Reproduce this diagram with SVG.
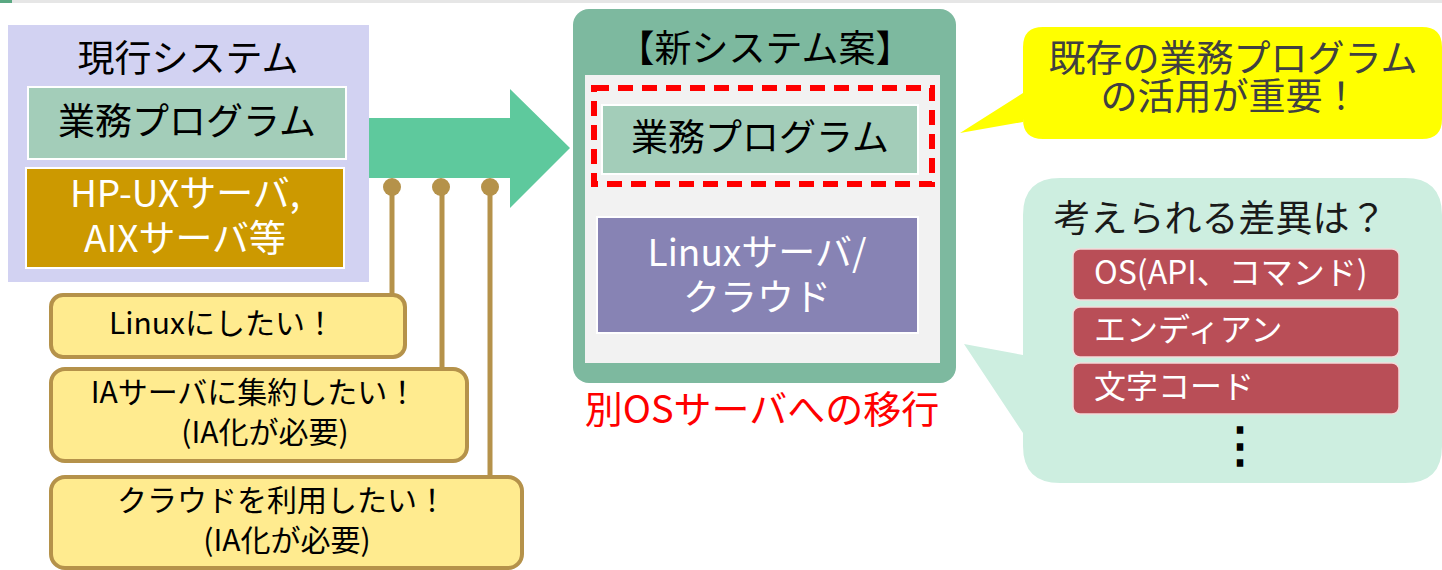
<svg xmlns="http://www.w3.org/2000/svg" width="1442" height="570" viewBox="0 0 1442 570">
<style>
text{font-family:"Noto Sans CJK JP","Noto Sans",sans-serif;}
.t{font-size:37px;fill:#000;text-anchor:middle;}
.w{font-size:37px;fill:#fff;text-anchor:middle;}
.c{font-size:30px;fill:#000;text-anchor:middle;}
.r{font-size:32px;fill:#fff;}
.prog{fill:#a3cdb9;stroke:#fff;stroke-width:2;}
.call{fill:#ffeb8f;stroke:#b5924a;stroke-width:4;}
.pin{stroke:#b5924a;stroke-width:5;fill:none;}
.dot{fill:#b5924a;}
.diff{fill:#b94e57;stroke:#f4dada;stroke-width:1.5;}
</style>
<rect x="0" y="0" width="1442" height="3" fill="#e6e6e6"/>
<rect x="0" y="0" width="12" height="3" fill="#5aa882"/>

<g id="current-system">
<rect x="8" y="25" width="361" height="257" fill="#d2d2f2"/>
<text class="t" x="188" y="72">現行システム</text>
<rect class="prog" x="28" y="87" width="318" height="72"/>
<text class="t" x="187" y="135">業務プログラム</text>
<rect x="26" y="168" width="318" height="100" fill="#cc9900" stroke="#fff" stroke-width="2"/>
<text class="w" x="185" y="207">HP-UXサーバ,</text>
<text class="w" x="185" y="252">AIXサーバ等</text>
</g>

<g id="migration-arrow">
<polygon points="369,118 510,118 510,89 570,148 510,208 510,178 369,178" fill="#5ec99d"/>
</g>

<g id="connectors">
<line class="pin" x1="392" y1="187" x2="392" y2="296"/>
<line class="pin" x1="442" y1="187" x2="442" y2="370"/>
<line class="pin" x1="490" y1="187" x2="490" y2="478"/>
<circle class="dot" cx="392" cy="187" r="9"/>
<circle class="dot" cx="441" cy="187" r="9"/>
<circle class="dot" cx="490" cy="187" r="9"/>
</g>

<g id="want-linux">
<rect class="call" x="51" y="295" width="354" height="62" rx="12"/>
<text class="c" x="222" y="334">Linuxにしたい！</text>
</g>
<g id="want-ia">
<rect class="call" x="51" y="369" width="416" height="92" rx="14"/>
<text class="c" x="254" y="403">IAサーバに集約したい！</text>
<text class="c" x="265" y="443">(IA化が必要)</text>
</g>
<g id="want-cloud">
<rect class="call" x="51" y="477" width="471" height="91" rx="14"/>
<text class="c" x="282" y="511">クラウドを利用したい！</text>
<text class="c" x="287" y="551">(IA化が必要)</text>
</g>

<g id="new-system">
<rect x="573" y="9" width="383" height="374" rx="16" fill="#7db99f"/>
<text class="t" x="765" y="62">【新システム案】</text>
<rect x="585" y="75" width="355" height="288" fill="#f2f2f2"/>
<rect x="594" y="88" width="338" height="96" fill="none" stroke="#ff0000" stroke-width="6" stroke-dasharray="15,9"/>
<rect class="prog" x="602" y="105" width="316" height="69"/>
<text class="t" x="760" y="151">業務プログラム</text>
<rect x="597" y="217" width="321" height="116" fill="#8783b4" stroke="#fff" stroke-width="2"/>
<text class="w" x="757" y="266">Linuxサーバ/</text>
<text class="w" x="757" y="311">クラウド</text>
<text x="762" y="423" style="font-size:38px;fill:#ff0000;text-anchor:middle">別OSサーバへの移行</text>
</g>

<g id="callout-important">
<path d="M1043,27 H1422 Q1442,27 1442,47 V119 Q1442,139 1422,139 H1043 Q1023,139 1023,119 V122 L960,133 L1023,93 V47 Q1023,27 1043,27 Z" fill="#ffff00"/>
<text x="1233" y="72" style="font-size:37px;fill:#404040;text-anchor:middle">既存の業務プログラム</text>
<text x="1230" y="110" style="font-size:37px;fill:#404040;text-anchor:middle">の活用が重要！</text>
</g>

<g id="callout-differences">
<path d="M1060,178 H1405 Q1442,178 1442,215 V446 Q1442,483 1405,483 H1060 Q1023,483 1023,446 V433 L964,344 L1023,355 V215 Q1023,178 1060,178 Z" fill="#cdeee0"/>
<text x="1220" y="232" style="font-size:37px;fill:#1a1a1a;text-anchor:middle">考えられる差異は？</text>
<rect class="diff" x="1073" y="249" width="326" height="51" rx="7"/>
<text class="r" x="1094" y="284">OS(API、コマンド)</text>
<rect class="diff" x="1073" y="307" width="326" height="50" rx="7"/>
<text class="r" x="1094" y="341">エンディアン</text>
<rect class="diff" x="1073" y="363" width="326" height="51" rx="7"/>
<text class="r" x="1094" y="398">文字コード</text>
<text x="1240" y="462" style="font-size:48px;font-weight:bold;fill:#000;text-anchor:middle">⋮</text>
</g>
</svg>
